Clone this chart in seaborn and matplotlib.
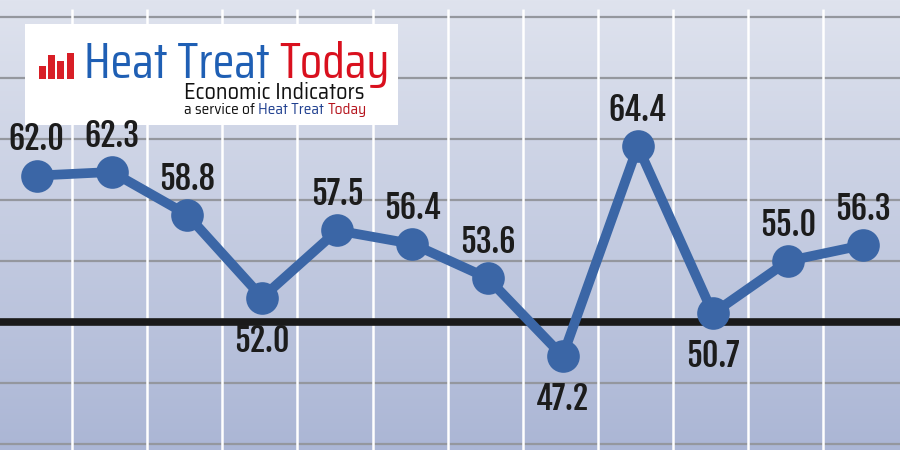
import numpy as np
import matplotlib
matplotlib.use("Agg")
import matplotlib.pyplot as plt
from matplotlib.colors import LinearSegmentedColormap
from matplotlib.patches import Rectangle
import seaborn as sns

# index values, one per period
values = [62.0, 62.3, 58.8, 52.0, 57.5, 56.4, 53.6, 47.2, 64.4, 50.7, 55.0, 56.3]
labels = [f"{v:.1f}" for v in values]
periods = np.arange(len(values))
grid_levels = [40, 45, 55, 60, 65, 70, 75]
threshold = 50

LINE_BLUE = "#3b66a6"
LABEL_FONT = ["Fjalla One", "Roboto Condensed", "DejaVu Sans"]
TITLE_FONT = ["Saira Condensed", "Roboto Condensed", "DejaVu Sans"]
LOGO_FONT = ["Saira SemiCondensed", "Roboto Condensed", "DejaVu Sans"]


def text_runs(fig, x, y, runs, **kw):
    """Draw coloured pieces of text one after another on a baseline (pixels)."""
    renderer = fig.canvas.get_renderer()
    for txt, color in runs:
        t = fig.text(x / 900, 1 - y / 450, txt, color=color, ha="left",
                     va="baseline", zorder=12, **kw)
        x += t.get_window_extent(renderer).width


def create_chart():
    sns.set_theme(style="white")
    fig = plt.figure(figsize=(9, 4.5), dpi=100)
    ax = fig.add_axes([0, 0, 1, 1])
    ax.set_xlim(-0.49, 11.49)
    ax.set_ylim(39.5, 76.4)

    # background gradient, light at the top, darker blue-grey below
    cmap = LinearSegmentedColormap.from_list("bg", ["#dfe3ee", "#abb6d5"])
    grad = np.linspace(0, 1, 256).reshape(-1, 1)
    ax.imshow(grad, aspect="auto", cmap=cmap, extent=[-0.49, 11.49, 39.5, 76.4],
              origin="upper", zorder=0)

    for lvl in grid_levels:
        ax.axhline(lvl, color="#94979e", lw=1.6, zorder=1)
    ax.vlines(periods[:-1] + 0.47, 39.5, 75.7, color="white", lw=1.8, zorder=2)
    ax.axhline(threshold, color="#1a1a1a", lw=5.5, zorder=3)

    sns.lineplot(x=periods, y=values, ax=ax, color=LINE_BLUE, linewidth=7,
                 marker="o", markersize=23.5, markeredgewidth=0, zorder=4)

    # logo box sits under the value labels so they are never clipped
    ax.add_patch(Rectangle((25 / 900, 1 - 125 / 450), 373 / 900, 101 / 450,
                           transform=ax.transAxes, facecolor="white",
                           edgecolor="none", zorder=4.5))

    for x, v, txt in zip(periods, values, labels):
        below = v < 53
        ax.annotate(txt, (x, v), xytext=(0, -31 if below else 26),
                    textcoords="offset points", ha="center", va="center",
                    fontsize=23, fontweight="bold", family=LABEL_FONT,
                    color="#1c1c1c", zorder=5)

    ax.set_axis_off()

    bars = [(39, 66), (48, 55), (57, 61), (67, 53)]
    for bx, top in bars:
        fig.patches.append(Rectangle((bx / 900, 1 - 79 / 450), 7 / 900, (79 - top) / 450,
                                     transform=fig.transFigure, facecolor="#d81e26",
                                     edgecolor="none", zorder=11))
    text_runs(fig, 84, 78, [("Heat Treat ", "#1f5fb4"), ("Today", "#d9101e")],
              fontsize=36.5, family=TITLE_FONT)
    text_runs(fig, 184, 99, [("Economic Indicators", "#111111")],
              fontsize=16, family=LOGO_FONT)
    text_runs(fig, 184, 114, [("a service of ", "#111111"), ("Heat Treat ", "#1f3f8f"),
                              ("Today", "#b5121b")],
              fontsize=11, family=LOGO_FONT)

    fig.savefig("out.png", dpi=100)


if __name__ == "__main__":
    create_chart()
